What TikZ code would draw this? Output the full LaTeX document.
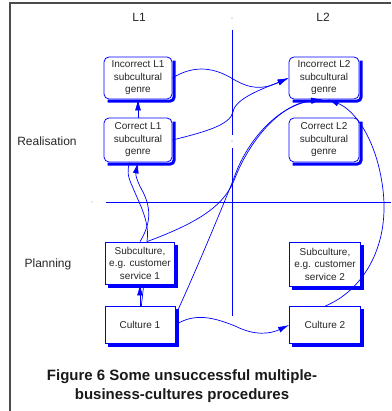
\documentclass[tikz,border=0pt]{standalone}
\usepackage{fontspec}
\setmainfont{Liberation Sans}
\usetikzlibrary{arrows.meta,calc}

\tikzset{
  genre/.style = {draw=blue, fill=white, rounded corners=5pt, line width=0.8pt,
    minimum width=68pt, minimum height=42pt, align=center, inner sep=1pt,
    font=\fontsize{10}{12.5}\selectfont, text=black!85},
  culture/.style = {genre, sharp corners},
  lbl/.style = {font=\fontsize{12}{14}\selectfont, text=black!85},
  link/.style = {blue, line width=0.7pt},
  arr/.style = {link, -{Latex[length=11pt,width=6pt]}},
  shade/.style = {blue, line width=3pt},
}

\begin{document}
\begin{tikzpicture}[x=1pt, y=1pt, yscale=-1]
\useasboundingbox (0,0) rectangle (391,411);
% frame
\draw[black!70, line width=1.2pt] (391,3) -- (10,3) -- (10,411);
% axes
\draw[blue, line width=0.8pt] (232,30) -- (232,135) (232,148) -- (232,316);
\draw[blue, line width=0.8pt] (106,202) -- (391,202);
\foreach \p in {(232,18),(232,141),(92,202)}
  \fill[black!40] \p circle (0.6);

\node[lbl] (l1) at (139,17) {L1};
\node[lbl] (l2) at (323,17) {L2};
\node[lbl] (real) at (47,141) {Realisation};
\node[lbl] (plan) at (48,264) {Planning};

% boxes
\node[genre] (incL1) at (138,78) {Incorrect L1\\subcultural\\genre};
\node[genre, minimum height=44pt] (corL1) at (138,140) {Correct L1\\subcultural\\genre};
\node[genre, minimum width=70pt] (incL2) at (324,78) {Incorrect L2\\subcultural\\genre};
\node[genre, minimum width=70pt, minimum height=44pt] (corL2) at (324,140) {Correct L2\\subcultural\\genre};
\node[culture, minimum width=69pt] (sub1) at (140,263) {Subculture,\\e.g. customer\\service 1};
\node[culture, minimum width=70pt, minimum height=37pt] (cul1) at (140,325) {Culture 1};
\node[culture, minimum width=71pt, minimum height=44pt] (sub2) at (325,264) {Subculture,\\e.g. customer\\service 2};
\node[culture, minimum width=71pt, minimum height=37pt] (cul2) at (325,325) {Culture 2};

% shadows on the right and bottom sides
\foreach \b in {incL1,corL1,incL2,corL2}
  \draw[shade, rounded corners=4pt]
    ($(\b.north east)+(1.7,4)$) -- ($(\b.south east)+(1.7,1.7)$) -- ($(\b.south west)+(4,1.7)$);
\foreach \b in {sub1,cul1,sub2,cul2}
  \draw[shade]
    ($(\b.north east)+(1.7,3)$) -- ($(\b.south east)+(1.7,1.7)$) -- ($(\b.south west)+(3,1.7)$);

% connectors
\draw[arr] (corL1.north) -- (incL1.south);
\draw[arr] (cul1.north) -- (sub1.south);
\draw[link] (cul1.86) -- (sub1.-80);
\draw[arr] (sub1.north) .. controls (150,225) and (152,210) .. (143,192)
  .. controls (134,176) and (136,172) .. (corL1.south);
\draw[link] (sub1.72) .. controls (150,222) and (140,205) .. (133,188)
  .. controls (127,175) and (127,170) .. (corL1.-110);
\draw[arr] (incL1.east) .. controls (195,64) and (215,68) .. (233,79)
  .. controls (250,89) and (262,90) .. (incL2.west);
\draw[arr] (corL1.east) .. controls (205,132) and (230,125) .. (233,112)
  .. controls (235,98) and (265,88) .. (incL2.west);
\draw[arr] (sub1.72) .. controls (200,222) and (225,205) .. (235,178)
  .. controls (250,140) and (280,104) .. (incL2.-95);
\draw[arr] (cul1.15) .. controls (195,273) and (220,213) .. (234,178)
  .. controls (245,145) and (275,106) .. (incL2.-95);
\draw[arr] (cul1.east) .. controls (195,312) and (215,318) .. (235,326)
  .. controls (255,336) and (270,334) .. (cul2.west);
\draw[arr] (cul2.north) .. controls (360,292) and (390,250) .. (383,190)
  .. controls (377,140) and (355,110) .. (incL2.-80);

% caption
\node[font=\fontsize{15}{19}\selectfont\bfseries, align=center, text=black!90]
  (cap) at (182,386) {Figure 6 Some unsuccessful multiple-\\business-cultures procedures};
\end{tikzpicture}
\end{document}
